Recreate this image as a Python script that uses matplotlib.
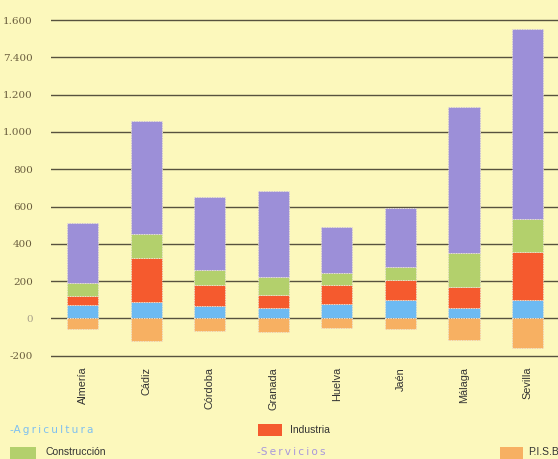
import matplotlib
matplotlib.use("Agg")
import matplotlib.pyplot as plt
import numpy as np
from matplotlib.patches import Rectangle

provincias = ["Almería", "Cádiz", "Córdoba", "Granada", "Huelva", "Jaén", "Málaga", "Sevilla"]
agricultura = [71, 86, 66, 57, 75, 98, 57, 98]
industria = [49, 239, 113, 68, 104, 107, 112, 259]
construccion = [68, 125, 82, 98, 62, 72, 180, 175]
servicios = [321, 609, 391, 461, 250, 316, 786, 1019]
pisb = [-56, -123, -68, -72, -54, -59, -116, -158]

ytick_vals = [1600, 1400, 1200, 1000, 800, 600, 400, 200, 0, -200]
ytick_labels = ["1.600", "7.400", "1.200", "1.000", "800", "600", "400", "200", "0", "-200"]

BG = "#FCF8BC"
C_AGR = "#6DBAF2"
C_IND = "#F55A2E"
C_CON = "#B3D06C"
C_SER = "#9C8FD8"
C_PIS = "#F7B062"
GRID = "#57523E"
TXT = "#6A5E3E"

narrow = ["Liberation Sans", "DejaVu Sans"]

W, H = 558, 459
fig = plt.figure(figsize=(W / 100, H / 100), dpi=100, facecolor=BG)
ax = fig.add_axes([51 / W, 1 - 362 / H, 1 - 51 / W, (362 - 10) / H])
ax.set_facecolor(BG)

x = np.arange(len(provincias))
bw = 0.49
edge = dict(edgecolor="#EDE6DA", linewidth=0.6, linestyle=(0, (1.5, 1.5)))
ax.bar(x, agricultura, bw, color=C_AGR, zorder=3, **edge)
b1 = np.array(agricultura)
ax.bar(x, industria, bw, bottom=b1, color=C_IND, zorder=3, **edge)
b2 = b1 + np.array(industria)
ax.bar(x, construccion, bw, bottom=b2, color=C_CON, zorder=3, **edge)
b3 = b2 + np.array(construccion)
ax.bar(x, servicios, bw, bottom=b3, color=C_SER, zorder=3, **edge)
ax.bar(x, pisb, bw, color=C_PIS, zorder=3, **edge)

ax.set_xlim(-0.5, 7.48)
ax.set_ylim(-234, 1654)
ax.set_yticks(ytick_vals)
ax.set_yticklabels(ytick_labels)
for v in ytick_vals:
    ax.axhline(v, color=GRID, linewidth=1.0, zorder=1)
for lbl in ax.get_yticklabels():
    lbl.set_fontfamily(["DejaVu Serif", "DejaVu Sans"])
    lbl.set_fontsize(7.5)
    lbl.set_color(TXT)
ax.get_yticklabels()[8].set_color("#A8A08A")
ax.tick_params(axis="y", length=0, pad=13)

ax.set_xticks(x)
ax.set_xticklabels(provincias, rotation=90, fontsize=7.8, family=narrow, color="#333333")
ax.tick_params(axis="x", length=0, pad=3.5)
for s in ax.spines.values():
    s.set_visible(False)

def px(xp, yp):
    return xp / W, 1 - yp / H

ts = "\u2009"
fig.text(*px(10, 430), "-" + ts.join("Agricultura"), color="#7EC0F0", fontsize=7.6,
         va="center", ha="left")
fig.text(*px(257, 452), "-" + ts.join("Servicios"), color="#A898DC", fontsize=7.6,
         va="center", ha="left")

def patch(x0, y0, w, h, c):
    fig.patches.append(Rectangle(px(x0, y0 + h), w / W, h / H, transform=fig.transFigure,
                                 facecolor=c, edgecolor="none"))

patch(10, 447, 26, 12, C_CON)
fig.text(*px(45, 452), "Construcción", color="#333333", fontsize=7.5, family=narrow,
         va="center", ha="left")
patch(258, 424, 24, 12, C_IND)
fig.text(*px(290, 430), "Industria", color="#333333", fontsize=7.5, family=narrow,
         va="center", ha="left")
patch(500, 447, 23, 12, C_PIS)
fig.text(*px(528, 452), "P.I.S.B", color="#333333", fontsize=7.5, family=narrow,
         va="center", ha="left")

fig.savefig("out.png", dpi=100, facecolor=BG)
